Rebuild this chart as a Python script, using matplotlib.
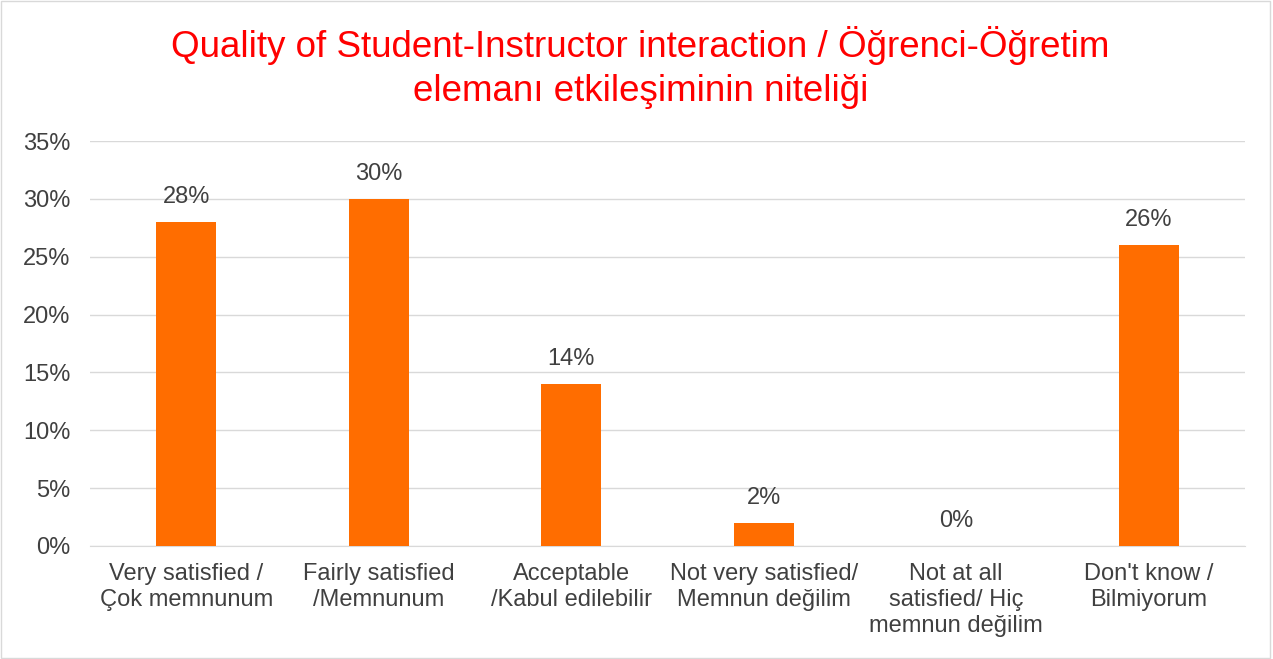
import matplotlib.pyplot as plt
from matplotlib.ticker import PercentFormatter
from matplotlib.patches import Rectangle

categories = ['Very satisfied /\nÇok memnunum', 'Fairly satisfied\n/Memnunum',
              'Acceptable\n/Kabul edilebilir', 'Not very satisfied/\nMemnun değilim',
              'Not at all\nsatisfied/ Hiç\nmemnun değilim', "Don't know /\nBilmiyorum"]
values = [28, 30, 14, 2, 0, 26]
yticks = [0, 5, 10, 15, 20, 25, 30, 35]

plt.rcParams['font.family'] = ['Liberation Sans', 'DejaVu Sans']
txt = '#404040'

fig = plt.figure(figsize=(12.73, 6.59), dpi=100)
ax = fig.add_axes([0.0707, 0.1715, 0.9073, 0.6145])

x = range(len(categories))
ax.bar(x, values, width=0.31, color='#FF6D00', zorder=3)
for i, v in zip(x, values):
    ax.text(i, v + 1.2, f'{v}%', ha='center', va='bottom', fontsize=17, color=txt)

ax.set_xlim(-0.5, len(categories) - 0.5)
ax.set_ylim(0, 35)
ax.set_yticks(yticks)
ax.yaxis.set_major_formatter(PercentFormatter(decimals=0))
ax.set_xticks(list(x))
ax.set_xticklabels(categories, fontsize=17, color=txt, va='top', linespacing=1.25)
ax.tick_params(axis='y', labelsize=17, colors=txt, length=0, pad=14)
ax.tick_params(axis='x', length=0, pad=12)
ax.grid(axis='y', color='#D9D9D9', linewidth=1, zorder=0)
for s in ['top', 'right', 'left']:
    ax.spines[s].set_visible(False)
ax.spines['bottom'].set_color('#D9D9D9')

fig.suptitle('Quality of Student-Instructor interaction / Öğrenci-Öğretim\nelemanı etkileşiminin niteliği',
             x=0.503, y=0.96, fontsize=26.5, color='#FF0000', linespacing=1.32)

fig.patches.append(Rectangle((0.001, 0.001), 0.997, 0.997, transform=fig.transFigure,
                             fill=False, edgecolor='#D9D9D9', linewidth=1))

fig.savefig('out.png', dpi=100)
